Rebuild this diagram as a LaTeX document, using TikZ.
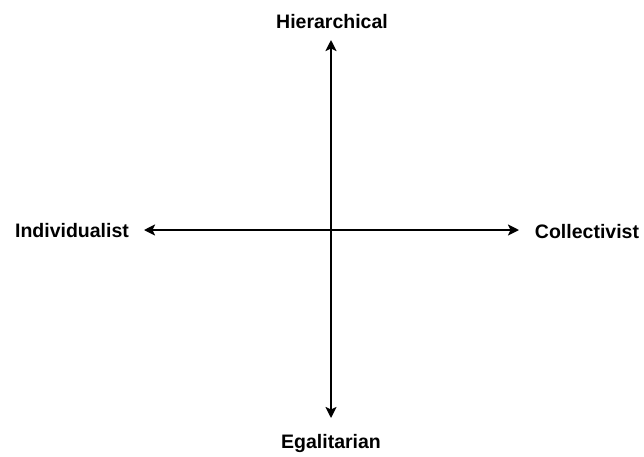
\documentclass[tikz,border=0pt]{standalone}
\usepackage{fontspec}
\setmainfont{Liberation Sans}
\usetikzlibrary{arrows.meta}
\begin{document}
\begin{tikzpicture}[x=1pt,y=-1pt,
  lab/.style={font=\bfseries\fontsize{19.5}{22}\selectfont, inner sep=0pt},
  axis/.style={line width=2.6pt, {Stealth[length=11pt,width=11pt,inset=2.5pt]}-{Stealth[length=11pt,width=11pt,inset=2.5pt]}}]
\useasboundingbox (0,0) rectangle (644,456);
\node[lab] (top) at (332,22) {Hierarchical};
\node[lab] (bot) at (331,443) {Egalitarian};
\node[lab] (left) at (72,231) {Individualist};
\node[lab] (right) at (587,232) {Collectivist};
\coordinate (t) at (331,40);
\coordinate (b) at (331,418);
\coordinate (l) at (144,230);
\coordinate (r) at (519,230);
\draw[axis] (t) -- (b);
\draw[axis] (l) -- (r);
\end{tikzpicture}
\end{document}
